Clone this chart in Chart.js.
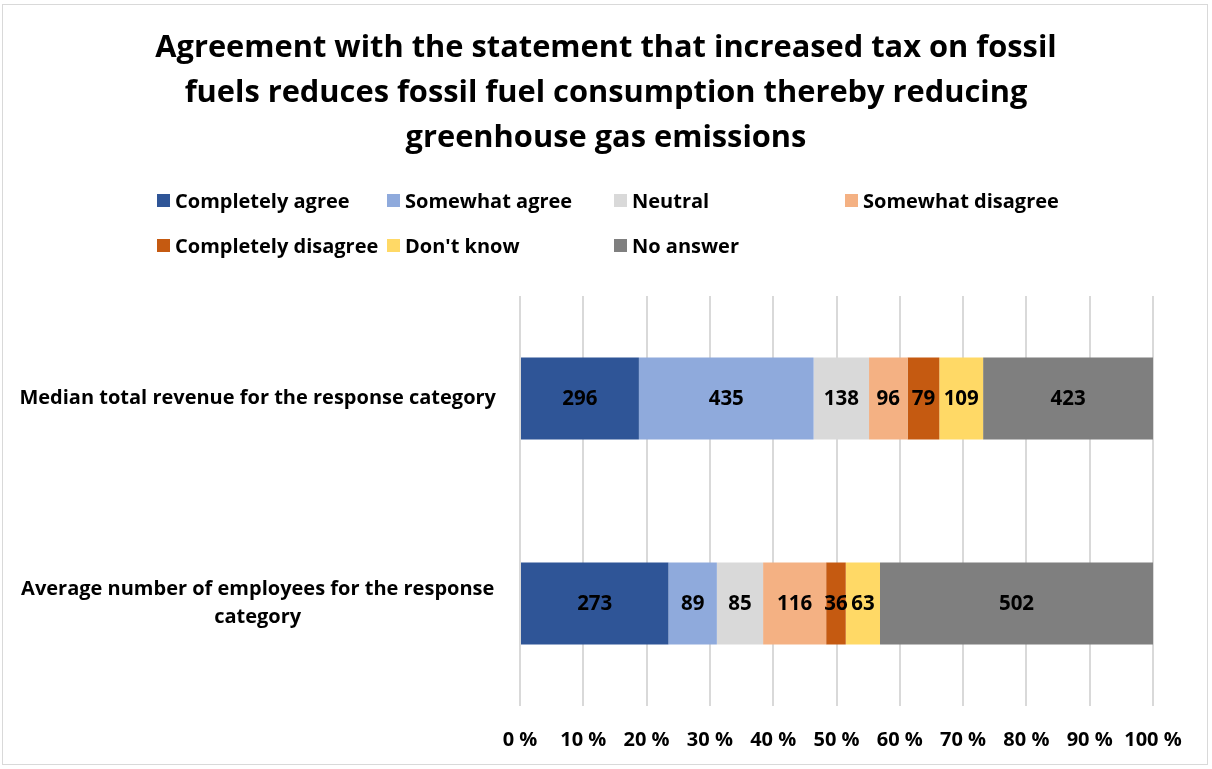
<!DOCTYPE html>
<html>
<head>
<meta charset="utf-8">
<script src="https://cdn.jsdelivr.net/npm/chart.js@4/dist/chart.umd.min.js"></script>
<style>
  html, body { margin: 0; padding: 0; background: #ffffff; }
  #wrap { position: absolute; left: 0; top: 0; width: 1212px; height: 769px; }
</style>
</head>
<body>
<div id="wrap"><canvas id="c" width="1212" height="769"></canvas></div>
<script>
const categories = [
  'Median total revenue for the response category',
  ['Average number of employees for the response', 'category']
];
const seriesNames = ['Completely agree', 'Somewhat agree', 'Neutral', 'Somewhat disagree', 'Completely disagree', "Don't know", 'No answer'];
const completelyAgree = [296, 273];
const somewhatAgree = [435, 89];
const neutral = [138, 85];
const somewhatDisagree = [96, 116];
const completelyDisagree = [79, 36];
const dontKnow = [109, 63];
const noAnswer = [423, 502];
const tickValues = [0, 10, 20, 30, 40, 50, 60, 70, 80, 90, 100];
const seriesColors = ['#2F5597', '#8FAADC', '#D9D9D9', '#F4B183', '#C55A11', '#FFD966', '#7F7F7F'];

const FONT = '"Open Sans", Lato, sans-serif';
const raw = [completelyAgree, somewhatAgree, neutral, somewhatDisagree, completelyDisagree, dontKnow, noAnswer];
const totals = categories.map((_, i) => raw.reduce((s, arr) => s + arr[i], 0));

const datasets = raw.map((arr, k) => ({
  label: seriesNames[k],
  data: arr.map((v, i) => v / totals[i] * 100),
  rawValues: arr,
  backgroundColor: seriesColors[k],
  borderWidth: 0,
  barPercentage: 0.4,
  categoryPercentage: 1.0
}));

const valueLabels = {
  id: 'valueLabels',
  afterDatasetsDraw(chart) {
    const ctx = chart.ctx;
    ctx.save();
    ctx.font = 'bold 20.5px ' + FONT;
    ctx.fillStyle = '#000000';
    ctx.textAlign = 'center';
    ctx.textBaseline = 'middle';
    chart.data.datasets.forEach((ds, k) => {
      const meta = chart.getDatasetMeta(k);
      meta.data.forEach((el, i) => {
        const p = el.getProps(['x', 'y', 'base'], true);
        ctx.fillText(String(ds.rawValues[i]), (p.x + p.base) / 2, p.y + 1);
      });
    });
    ctx.restore();
  }
};

const gridLegend = {
  id: 'gridLegend',
  afterDraw(chart) {
    const ctx = chart.ctx;
    ctx.save();
    ctx.strokeStyle = '#d9d9d9';
    ctx.lineWidth = 1;
    ctx.strokeRect(2.5, 4.5, 1205, 760);
    ctx.font = 'bold 20px ' + FONT;
    ctx.textBaseline = 'middle';
    ctx.textAlign = 'left';
    const colX = [157, 387, 614, 845];
    const rowY = [201, 246];
    chart.data.datasets.forEach((ds, k) => {
      const col = k < 4 ? k : k - 4;
      const row = k < 4 ? 0 : 1;
      const x = colX[col], y = rowY[row];
      ctx.fillStyle = ds.backgroundColor;
      ctx.fillRect(x, y - 7, 13, 13);
      ctx.fillStyle = '#000000';
      ctx.fillText(ds.label, x + 18, y + 1);
    });
    ctx.restore();
  }
};

new Chart(document.getElementById('c'), {
  type: 'bar',
  data: { labels: categories, datasets },
  options: {
    indexAxis: 'y',
    responsive: false,
    animation: false,
    layout: { padding: { left: 20, right: 20, top: 26, bottom: 18 } },
    plugins: {
      legend: { display: false },
      tooltip: { enabled: false },
      title: {
        display: true,
        text: ['Agreement with the statement that increased tax on fossil',
               'fuels reduces fossil fuel consumption thereby reducing',
               'greenhouse gas emissions'],
        color: '#000000',
        font: { family: FONT, size: 30.8, weight: 'bold', lineHeight: 1.46 },
        padding: { top: 0, bottom: 135 }
      }
    },
    scales: {
      x: {
        stacked: true,
        min: 0,
        max: 100,
        afterBuildTicks(scale) { scale.ticks = tickValues.map(v => ({ value: v })); },
        ticks: {
          color: '#000000',
          font: { family: FONT, size: 20, weight: 'bold' },
          padding: 22,
          maxRotation: 0,
          callback: v => v + ' %'
        },
        afterFit(scale) { scale.height = 45; scale.paddingRight = 59; },
        grid: { color: '#d9d9d9', lineWidth: 2, drawTicks: false },
        border: { display: false }
      },
      y: {
        stacked: true,
        ticks: {
          color: '#000000',
          font: { family: FONT, size: 20, weight: 'bold', lineHeight: 1.4 },
          padding: 24,
          crossAlign: 'center'
        },
        afterFit(scale) { scale.width = 500; scale.paddingTop = 0; scale.paddingBottom = 0; },
        grid: { display: false, drawTicks: false },
        border: { display: false }
      }
    }
  },
  plugins: [valueLabels, gridLegend]
});
</script>
</body>
</html>
